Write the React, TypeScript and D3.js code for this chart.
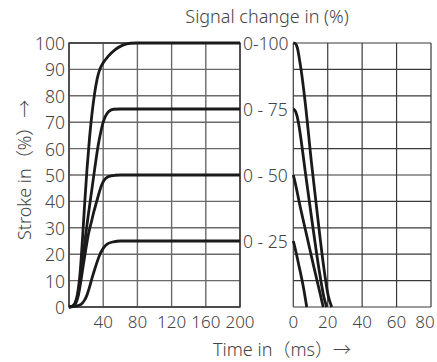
import React from "react";
import * as d3 from "d3";

type Pt = [number, number];

// Stroke (%) vs time (ms) for rising signal steps
const rise100: Pt[] = [[0,0],[4,0.4],[7,1.5],[10,5],[13,13],[16,27],[18.5,40],[21,52],[24,64],[27,73.5],[30,81],[33,86.5],[36,90],[40,92.5],[46,95],[54,97.5],[63,99.2],[72,99.9],[80,100],[200,100]];
const rise75: Pt[] = [[0,0],[4,0.3],[7,1.2],[10,4],[13,10],[16,18],[19,26],[22,33.5],[25,40.5],[28,47.5],[31,54.5],[34,61],[37,66],[40,70],[43,72.5],[47,74.2],[52,74.9],[60,75],[200,75]];
const rise50: Pt[] = [[0,0],[5,0.3],[8,1.5],[11,4.5],[14,10],[17,16.5],[20,22.5],[23,28],[26,32],[29,36],[32,39.5],[35,43],[38,46],[41,48],[46,49.4],[54,49.9],[60,50],[200,50]];
const rise25: Pt[] = [[0,0],[8,0.3],[14,1],[18,2.5],[21,4.5],[24,7.5],[27,11],[30,14.2],[33,17.2],[36,19.8],[40,22.2],[45,23.9],[52,24.7],[60,25],[200,25]];

// Stroke (%) vs time (ms) for falling signal
const fall100: Pt[] = [[0,100],[0.9,99.9],[1.8,99.2],[2.6,97.5],[3.4,94.5],[4.5,90],[7,77],[10.5,55],[14,35],[17.5,16],[20.2,4.5],[22.3,0]];
const fall75: Pt[] = [[0,75],[0.7,74.7],[1.5,73.8],[2.3,72],[3.2,69],[5,61],[7,51],[11,32],[15,14],[17.7,4],[19.4,0]];
const fall50: Pt[] = [[0,50],[0.4,49],[4,38],[8,26.5],[12,15],[15.6,5],[17.4,0]];
const fall25: Pt[] = [[0,25],[0.4,24],[3,16.5],[6,7],[7.8,0]];

const yTicks = [0, 10, 20, 30, 40, 50, 60, 70, 80, 90, 100];
const leftXTicks = [0, 40, 80, 120, 160, 200];
const leftXLabels = [40, 80, 120, 160, 200];
const rightXTicks = [0, 20, 40, 60, 80];
const signalLevels = [100, 75, 50, 25];
const signalLabels = ["0-100", "0 - 75", "0 - 50", "0 - 25"];

const FONT = "'Noto Sans', 'Noto Sans CJK SC', sans-serif";
const TXT = "#444";

export default function App() {
  const W = 437, H = 362;
  const y = d3.scaleLinear().domain([0, 100]).range([307, 43]);
  const xL = d3.scaleLinear().domain([0, 200]).range([69, 240]);
  const xR = d3.scaleLinear().domain([0, 80]).range([293.3, 431]);

  const lineL = d3.line<Pt>().x(d => xL(d[0])).y(d => y(d[1])).curve(d3.curveMonotoneX);
  const lineR = d3.line<Pt>().x(d => xR(d[0])).y(d => y(d[1])).curve(d3.curveMonotoneX);

  const rises = [rise100, rise75, rise50, rise25];
  const falls = [fall100, fall75, fall50, fall25];

  return (
    <svg width={W} height={H} style={{ position: "absolute", left: 0, top: 0, background: "#fff" }}
      fontFamily={FONT} fontWeight={300}>
      {/* left grid */}
      <g>
        {yTicks.map(t => (
          <line key={"lh" + t} x1={xL(0)} x2={xL(200)} y1={y(t)} y2={y(t)} stroke="#6a6a6a" strokeWidth={1.4} />
        ))}
        {leftXTicks.map(t => (
          <line key={"lv" + t} x1={xL(t)} x2={xL(t)} y1={y(0)} y2={y(100)} stroke="#6a6a6a" strokeWidth={1.4} />
        ))}
        <rect x={xL(0)} y={y(100)} width={xL(200) - xL(0)} height={y(0) - y(100)} fill="none" stroke="#333" strokeWidth={1.4} />
      </g>
      {/* right grid */}
      <g>
        {yTicks.map(t => (
          <line key={"rh" + t} x1={xR(0)} x2={xR(80)} y1={y(t)} y2={y(t)} stroke="#3a3a3a" strokeWidth={1.2} />
        ))}
        {rightXTicks.map(t => (
          <line key={"rv" + t} x1={xR(t)} x2={xR(t)} y1={y(0)} y2={y(100)} stroke="#3a3a3a" strokeWidth={1.2} />
        ))}
      </g>
      {/* curves */}
      {rises.map((d, i) => (
        <path key={"r" + i} d={lineL(d) || ""} fill="none" stroke="#1a1a1a" strokeWidth={2.8} strokeLinejoin="round" />
      ))}
      {falls.map((d, i) => (
        <path key={"f" + i} d={lineR(d) || ""} fill="none" stroke="#1a1a1a" strokeWidth={2.8} strokeLinejoin="round" />
      ))}
      {/* y tick labels */}
      {yTicks.map(t => (
        <text key={"yt" + t} x={65} y={y(t) + 7} textAnchor="end" fontSize={17.5} fill={TXT}>{t}</text>
      ))}
      {/* left x tick labels */}
      {leftXLabels.map(t => (
        <text key={"xl" + t} x={xL(t)} y={328} textAnchor="middle" fontSize={17} fill={TXT}>{t}</text>
      ))}
      {/* right x tick labels */}
      {rightXTicks.map(t => (
        <text key={"xr" + t} x={t === 80 ? 425 : xR(t)} y={328} textAnchor="middle" fontSize={17} fill={TXT}>{t}</text>
      ))}
      {/* signal labels */}
      {signalLevels.map((v, i) => (
        <text key={"sl" + v} x={243} y={y(v) + 7} fontSize={17.5} fill={TXT}>{signalLabels[i]}</text>
      ))}
      {/* titles */}
      <text x={267} y={23} textAnchor="middle" fontSize={18} fill={TXT}>Signal change in (%)</text>
      <text x={213} y={356} fontSize={18} fill={TXT}>Time in（ms）→</text>
      <text transform="translate(31,240) rotate(-90)" fontSize={18} fill={TXT}>Stroke in（%）→</text>
    </svg>
  );
}
